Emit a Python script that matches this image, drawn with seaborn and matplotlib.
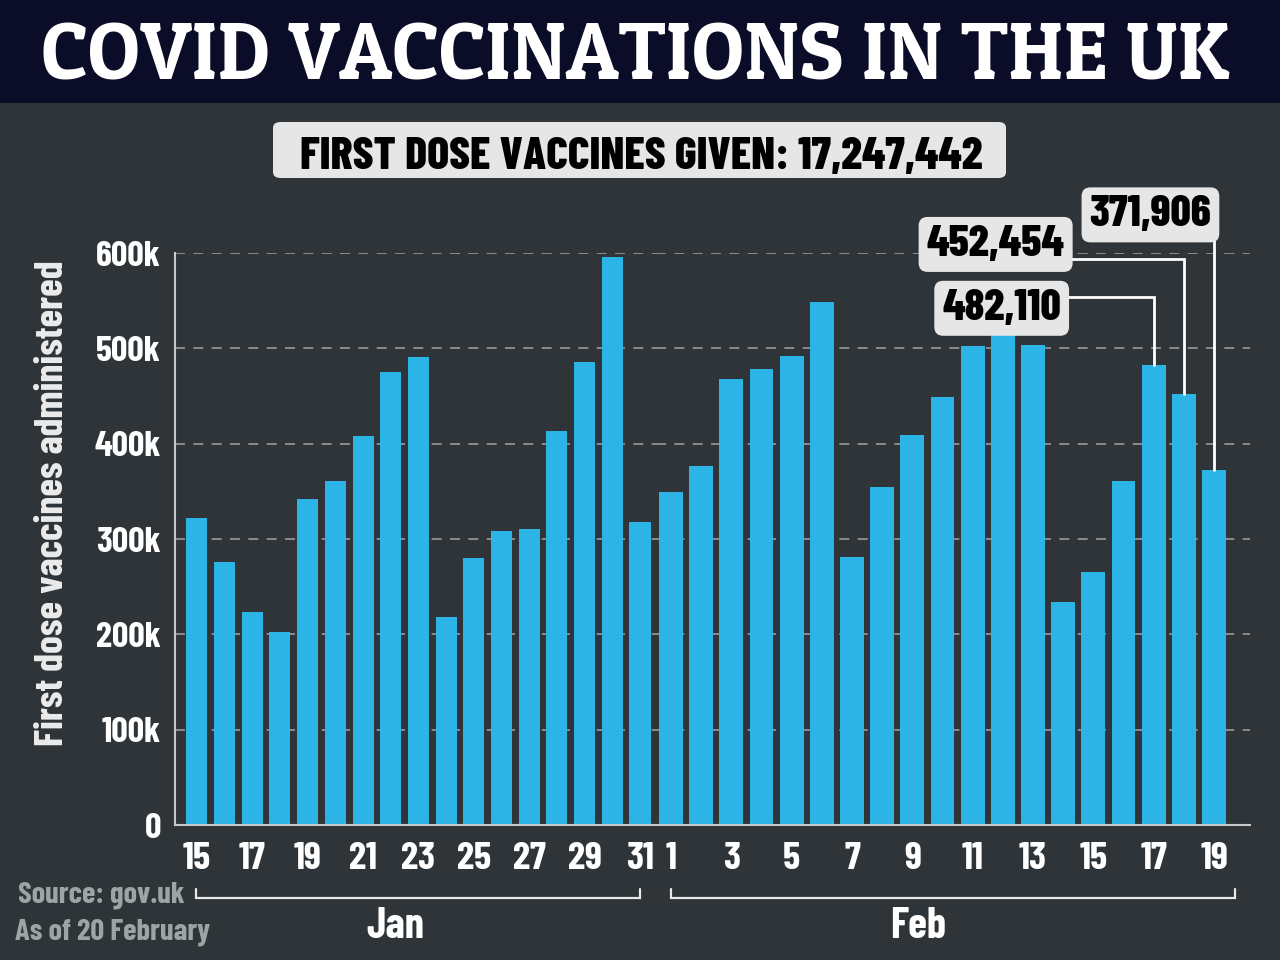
import matplotlib
matplotlib.use('Agg')
import matplotlib.pyplot as plt
import matplotlib.transforms as mtransforms
from matplotlib.patches import Rectangle, FancyBboxPatch
import seaborn as sns
import pandas as pd

# ---------------- data ----------------
jan_days = list(range(15, 32))
jan_values = [322000, 276000, 223000, 202000, 342000, 361000, 408000, 475000, 491000,
              218000, 280000, 308000, 311000, 413000, 486000, 596000, 318000]
feb_days = list(range(1, 20))
feb_values = [349000, 377000, 468000, 478000, 492000, 549000, 281000, 355000, 409000,
              449000, 502000, 518000, 504000, 234000, 265000, 361000, 482110, 452454, 371906]
y_ticks = [0, 100000, 200000, 300000, 400000, 500000, 600000]
y_tick_labels = ['0', '100k', '200k', '300k', '400k', '500k', '600k']
title = 'COVID VACCINATIONS IN THE UK'
subtitle = 'FIRST DOSE VACCINES GIVEN: 17,247,442'
y_label = 'First dose vaccines administered'
source_lines = ['Source: gov.uk', 'As of 20 February']
# callouts on the last Feb bars: (bar index, label x, label y, elbow y)
callouts = [(16, 10.96, 542000, 553800),
            (17, 10.76, 609000, 593700),
            (18, 15.89, 640000, None)]

# ---------------- style ----------------
BG = '#2e3437'
HEADER = '#0b0c27'
BAR = '#2db4e6'
BOX = '#e6e6e6'
COND = ['Barlow Condensed', 'DejaVu Sans']

sns.set_style('white')
plt.rcParams['font.family'] = COND

fig = plt.figure(figsize=(12.8, 9.6), dpi=100)
fig.patch.set_facecolor(BG)
W, H = 1280.0, 960.0

# header band
fig.add_artist(Rectangle((0, 1 - 103 / H), 1, 103 / H, transform=fig.transFigure,
                         facecolor=HEADER, edgecolor='none', zorder=0))

renderer = fig.canvas.get_renderer()


def fit_width(t, target_px):
    bb = t.get_window_extent(renderer)
    t.set_fontsize(t.get_fontsize() * target_px / bb.width)


t_title = fig.text(635 / W, 1 - 80 / H, title, ha='center', va='baseline', color='white',
                   family=['Patua One', 'DejaVu Serif'], fontsize=50)
fit_width(t_title, 1186)

# subtitle box
fig.add_artist(FancyBboxPatch((273 / W, 1 - 178 / H), (1006 - 273) / W, 56 / H,
                              boxstyle='round,pad=0,rounding_size=0.006',
                              transform=fig.transFigure, facecolor=BOX, edgecolor='none', zorder=1))
t_sub = fig.text(641 / W, 1 - 169 / H, subtitle, ha='center', va='baseline', color='black',
                 fontsize=40, fontweight=800, zorder=2)
fit_width(t_sub, 682)

# ---------------- axes ----------------
ax1 = fig.add_axes([175 / W, 135 / H, 480.5 / W, 572 / H])
ax2 = fig.add_axes([655.5 / W, 135 / H, 594.5 / W, 572 / H])

jan_df = pd.DataFrame({'day': [str(d) for d in jan_days], 'value': jan_values})
feb_df = pd.DataFrame({'day': [str(d) for d in feb_days], 'value': feb_values})

sns.barplot(data=jan_df, x='day', y='value', color=BAR, saturation=1, width=0.76,
            ax=ax1, zorder=2, linewidth=0, edgecolor='none')
sns.barplot(data=feb_df, x='day', y='value', color=BAR, saturation=1, width=0.79,
            ax=ax2, zorder=2, linewidth=0, edgecolor='none')

ax1.set_xlim(-0.79, 16.56)
ax2.set_xlim(-0.513, 19.19)

for ax, days in ((ax1, jan_days), (ax2, feb_days)):
    ax.set_facecolor('none')
    ax.set_ylim(0, 600000)
    ax.set_yticks(y_ticks)
    ax.yaxis.grid(True, color='#a9adaf', linestyle=(0, (6, 5)), linewidth=1.2, alpha=0.85)
    ax.xaxis.grid(False)
    ax.set_axisbelow(True)
    ax.set_xlabel('')
    ax.set_ylabel('')
    ax.set_xticks(range(0, len(days), 2))
    ax.set_xticklabels([str(d) for d in days[::2]])
    ax.tick_params(axis='x', length=0, pad=12, labelsize=28, labelcolor='white')
    for lab in ax.get_xticklabels():
        lab.set_fontweight('bold')
    for s in ('top', 'right', 'left'):
        ax.spines[s].set_visible(False)
    ax.spines['bottom'].set_color('#c9c9c9')
    ax.spines['bottom'].set_linewidth(1.5)

ax1.spines['left'].set_visible(True)
ax1.spines['left'].set_color('#c9c9c9')
ax1.spines['left'].set_linewidth(1.5)
ax1.set_yticklabels(y_tick_labels)
ax1.tick_params(axis='y', length=0, pad=10, labelsize=26, labelcolor='white')
for lab in ax1.get_yticklabels():
    lab.set_fontweight('bold')
ax2.tick_params(axis='y', left=False, labelleft=False, length=0)

ax1.set_ylabel(y_label, color='#ececec', fontsize=29, fontweight='bold', va='center')
ax1.yaxis.set_label_coords(-0.254, 0.563)

# month brackets
for ax, x0, x1, xm, name in ((ax1, -0.04, 16.0, 7.15, 'Jan'), (ax2, 0.0, 18.7, 8.18, 'Feb')):
    tr = mtransforms.blended_transform_factory(ax.transData, ax.transAxes)
    ax.plot([x0, x0, x1, x1], [-0.112, -0.1276, -0.1276, -0.112], transform=tr,
            color='#e8e8e8', lw=1.6, clip_on=False, solid_joinstyle='miter')
    ax.text(xm, -0.178, name, transform=tr,
            ha='center', va='center', color='white', fontsize=31, fontweight='bold')

# callouts
for idx, tx, ty, elbow in callouts:
    val = feb_values[idx]
    if elbow is not None:
        xs, ys = [tx, idx, idx], [elbow, elbow, val]
    else:
        xs, ys = [idx, idx], [ty, val]
    ax2.plot(xs, ys, color='white', lw=2, clip_on=False, zorder=3,
             solid_joinstyle='miter')
    ax2.text(tx, ty, f'{val:,}', ha='center', va='center', color='black', fontsize=32,
             fontweight=800, clip_on=False, zorder=5,
             bbox=dict(boxstyle='round,pad=0.18,rounding_size=0.2', facecolor=BOX,
                       edgecolor='none'))

# source note
fig.text(18 / W, 1 - 895 / H, source_lines[0], ha='left', va='center', color='#9ea3a6',
         fontsize=22, fontweight='bold')
fig.text(15 / W, 1 - 932 / H, source_lines[1], ha='left', va='center', color='#9ea3a6',
         fontsize=22, fontweight='bold')

fig.savefig('out.png', dpi=100, facecolor=fig.get_facecolor())
